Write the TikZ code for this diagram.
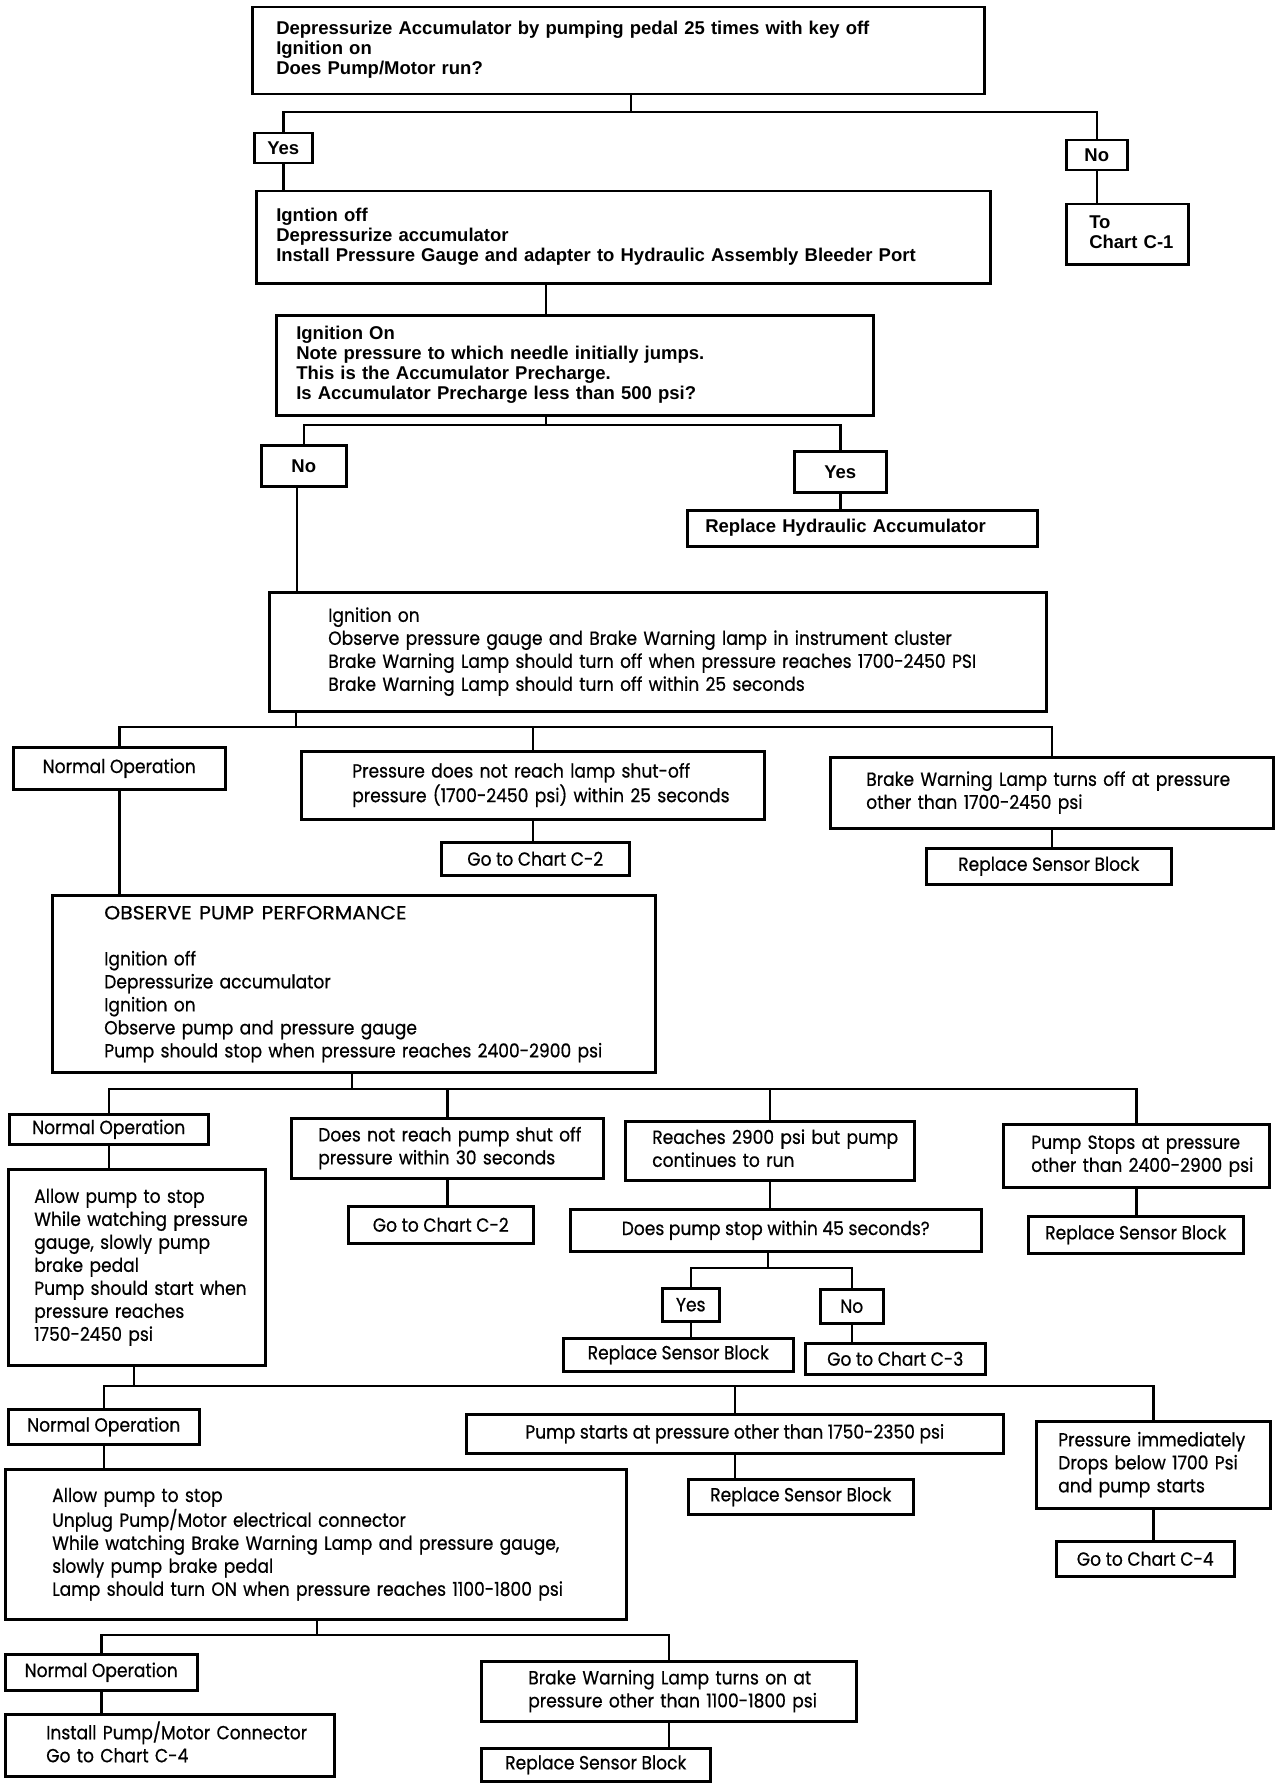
\documentclass[tikz,border=0pt]{standalone}
\usepackage{fontspec}
\usepackage{graphicx}
\setmainfont{Liberation Sans}
\newfontfamily\topfam{Liberation Sans}
\newfontfamily\lowfam[FakeStretch=0.9,FakeBold=0.6]{Poppins}
\newcommand\topf{\topfam\bfseries\fontsize{18.5}{20}\selectfont}
\newcommand\lowf{\lowfam\fontsize{19}{23}\selectfont}
\tikzset{
  bx/.style={draw=black, line width=2.5pt},
  cn/.style={draw=black, line width=2.5pt},
}
\newcommand\LB[8]{%
  \pgfmathsetmacro\myW{#5-#3}\pgfmathsetmacro\myH{#6-#4}\pgfmathsetmacro\myT{#5-#3-2*#7}%
  \node[bx,font=#2,anchor=north west,minimum width=\myW pt,minimum height=\myH pt,
        inner xsep=#7pt,inner ysep=0pt,text width=\myT pt,align=left] (#1) at (#3,#4)
        {\begin{tabular}{@{}l@{}}#8\end{tabular}};}
\newcommand\CB[7]{%
  \pgfmathsetmacro\myW{#5-#3}\pgfmathsetmacro\myH{#6-#4}%
  \node[bx,font=#2,anchor=north west,minimum width=\myW pt,minimum height=\myH pt,
        inner sep=0pt,align=center] (#1) at (#3,#4) {#7};}
\begin{document}
\begin{tikzpicture}[x=1pt,y=-1pt]
\fill[white] (0,0) rectangle (1280,1790);
\useasboundingbox (0,0) rectangle (1280,1790);

\LB{top}{\topf}{251}{6}{983}{93}{24}{Depressurize Accumulator by pumping pedal 25 times with key off\\ Ignition on\\ Does Pump/Motor run?}
\CB{yes1}{\topf}{253}{132}{311}{162}{Yes}
\CB{no1}{\topf}{1065}{139}{1126}{169}{No}
\LB{c1}{\topf}{1065}{203}{1187}{263}{23}{To\\ Chart C-1}
\LB{b2}{\topf}{255}{190}{989}{282}{20}{Igntion off\\ Depressurize accumulator\\ Install Pressure Gauge and adapter to Hydraulic Assembly Bleeder Port}
\LB{b3}{\topf}{275}{314}{872}{414}{20}{Ignition On\\ Note pressure to which needle initially jumps.\\ This is the Accumulator Precharge.\\ Is Accumulator Precharge less than 500 psi?}
\CB{no2}{\topf}{260}{444}{345}{485}{No}
\CB{yes2}{\topf}{793}{450}{885}{491}{Yes}
\LB{rha}{\topf}{686}{509}{1036}{545}{18}{Replace Hydraulic Accumulator}

\LB{b4}{\lowf}{268}{591}{1045}{710}{59}{Ignition on\\ Observe pressure gauge and Brake Warning lamp in instrument cluster\\ Brake Warning Lamp should turn off when pressure reaches 1700-2450 PSI\\ Brake Warning Lamp should turn off within 25 seconds}
\CB{noA}{\lowf}{12}{746}{224}{788}{Normal Operation}
\LB{p1}{\lowf}{300}{750}{763}{818}{51}{Pressure does not reach lamp shut-off\\ pressure (1700-2450 psi) within 25 seconds}
\CB{gcA}{\lowf}{440}{841}{628}{874}{Go to Chart C-2}
\LB{bw1}{\lowf}{829}{756}{1272}{827}{36}{Brake Warning Lamp turns off at pressure\\ other than 1700-2450 psi}
\CB{rsbA}{\lowf}{925}{847}{1170}{883}{Replace Sensor Block}

\LB{ob}{\lowf}{51}{894}{654}{1071}{52}{\scalebox{1.19}[1]{OBSERVE PUMP PERFORMANCE}\\ \\ Ignition off\\ Depressurize accumulator\\ Ignition on\\ Observe pump and pressure gauge\\ Pump should stop when pressure reaches 2400-2900 psi}

\CB{noB}{\lowf}{8}{1113}{207}{1143}{Normal Operation}
\LB{ap1}{\lowf}{7}{1168}{264}{1364}{26}{Allow pump to stop\\ While watching pressure\\ gauge, slowly pump\\ brake pedal\\ Pump should start when\\ pressure reaches\\ 1750-2450 psi}
\LB{dnr}{\lowf}{290}{1117}{602}{1177}{27}{Does not reach pump shut off\\ pressure within 30 seconds}
\CB{gcB}{\lowf}{347}{1205}{532}{1242}{Go to Chart C-2}
\LB{r29}{\lowf}{624}{1120}{913}{1179}{27}{Reaches 2900 psi but pump\\ continues to run}
\CB{dps}{\lowf}{569}{1208}{980}{1250}{Does pump stop within 45 seconds?}
\CB{yes3}{\lowf}{661}{1287}{718}{1320}{Yes}
\CB{no3}{\lowf}{819}{1288}{882}{1322}{No}
\CB{rsbC}{\lowf}{562}{1337}{792}{1370}{Replace Sensor Block}
\CB{gcC}{\lowf}{804}{1342}{984}{1373}{Go to Chart C-3}
\LB{ps}{\lowf}{1002}{1123}{1268}{1186}{28}{Pump Stops at pressure\\ other than 2400-2900 psi}
\CB{rsbB}{\lowf}{1027}{1215}{1242}{1252}{Replace Sensor Block}

\CB{noC}{\lowf}{7}{1408}{198}{1443}{Normal Operation}
\CB{pso}{\lowf}{465}{1413}{1002}{1452}{Pump starts at pressure other than 1750-2350 psi}
\CB{rsbD}{\lowf}{687}{1478}{912}{1513}{Replace Sensor Block}
\LB{pid}{\lowf}{1035}{1420}{1269}{1507}{22}{Pressure immediately\\ Drops below 1700 Psi\\ and pump starts}
\CB{gcD}{\lowf}{1055}{1540}{1233}{1575}{Go to Chart C-4}
\LB{ap2}{\lowf}{4}{1468}{625}{1618}{47}{Allow pump to stop\\ Unplug Pump/Motor electrical connector\\ While watching Brake Warning Lamp and pressure gauge,\\ slowly pump brake pedal\\ Lamp should turn ON when pressure reaches 1100-1800 psi}

\CB{noD}{\lowf}{4}{1653}{196}{1689}{Normal Operation}
\LB{inst}{\lowf}{4}{1713}{333}{1775}{41}{Install Pump/Motor Connector\\ Go to Chart C-4}
\LB{bwon}{\lowf}{480}{1660}{855}{1720}{47}{Brake Warning Lamp turns on at\\ pressure other than 1100-1800 psi}
\CB{rsbE}{\lowf}{480}{1747}{709}{1780}{Replace Sensor Block}

% connectors
\coordinate (h1) at (631,112);
\draw[cn] (top.south -| h1) -- (h1);
\draw[cn] (yes1.north) |- (h1) -| (no1.north);
\draw[cn] (yes1.south) -- (yes1.south |- b2.north);
\draw[cn] (no1.south) -- (no1.south |- c1.north);
\coordinate (v2) at (546,250);
\draw[cn] (b2.south -| v2) -- (b3.north -| v2);
\coordinate (h2) at (546,425);
\draw[cn] (b3.south -| h2) -- (h2);
\draw[cn] (no2.north) |- (h2) -| (yes2.north);
\draw[cn] (yes2.south) -- (yes2.south |- rha.north);
\coordinate (v3) at (297,500);
\draw[cn] (no2.south -| v3) -- (b4.north -| v3);
\coordinate (h3) at (296,727);
\draw[cn] (b4.south -| h3) -- (h3);
\draw[cn] (noA.north) |- (h3) -| (bw1.north);
\draw[cn] (p1.north) -- (p1.north |- h3);
\draw[cn] (p1.south) -- (p1.south |- gcA.north);
\draw[cn] (bw1.south) -- (bw1.south |- rsbA.north);
\draw[cn] (noA.south) -- (noA.south |- ob.north);
\coordinate (h4) at (352,1089);
\draw[cn] (ob.south -| h4) -- (h4);
\draw[cn] (noB.north) |- (h4) -| (ps.north);
\draw[cn] (dnr.north) -- (dnr.north |- h4);
\draw[cn] (r29.north) -- (r29.north |- h4);
\draw[cn] (noB.south) -- (noB.south |- ap1.north);
\draw[cn] (dnr.south) -- (dnr.south |- gcB.north);
\draw[cn] (r29.south) -- (r29.south |- dps.north);
\coordinate (h5) at (768,1268);
\draw[cn] (dps.south -| h5) -- (h5);
\draw[cn] (yes3.north) |- (h5) -| (no3.north);
\draw[cn] (yes3.south) -- (yes3.south |- rsbC.north);
\draw[cn] (no3.south) -- (no3.south |- gcC.north);
\draw[cn] (ps.south) -- (ps.south |- rsbB.north);
\coordinate (h6) at (134,1386);
\draw[cn] (ap1.south -| h6) -- (h6);
\draw[cn] (noC.north) |- (h6) -| (pid.north);
\draw[cn] (pso.north) -- (pso.north |- h6);
\draw[cn] (pso.south) -- (pso.south |- rsbD.north);
\draw[cn] (pid.south) -- (pid.south |- gcD.north);
\draw[cn] (noC.south) -- (noC.south |- ap2.north);
\coordinate (h7) at (317,1635);
\draw[cn] (ap2.south -| h7) -- (h7);
\draw[cn] (noD.north) |- (h7) -| (bwon.north);
\draw[cn] (noD.south) -- (noD.south |- inst.north);
\draw[cn] (bwon.south) -- (bwon.south |- rsbE.north);
\end{tikzpicture}
\end{document}
